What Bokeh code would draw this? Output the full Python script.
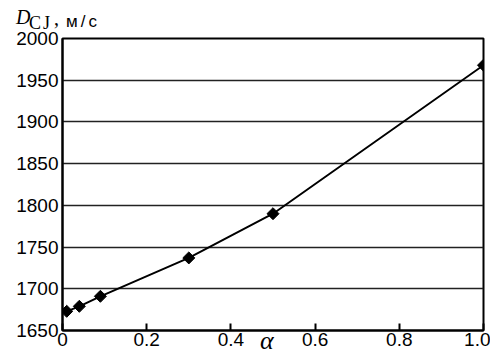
import math
from bokeh.plotting import figure
from bokeh.models import FixedTicker, Range1d, Div
from bokeh.layouts import column
from bokeh.embed import file_html
from bokeh.resources import INLINE

# data
alpha = [0.01, 0.04, 0.09, 0.30, 0.50, 1.00]
d_cj = [1673, 1679, 1691, 1737, 1790, 1968]
x_ticks = [0, 0.2, 0.4, 0.6, 0.8, 1.0]
x_tick_labels = ["0", "0.2", "0.4", "0.6", "0.8", "1.0"]
y_ticks = [1650, 1700, 1750, 1800, 1850, 1900, 1950, 2000]

W, H = 490, 356

p = figure(width=W, height=H, output_backend="svg", toolbar_location=None,
           x_range=Range1d(0, 1.0), y_range=Range1d(1650, 2000),
           min_border_left=62, min_border_right=7, min_border_top=38, min_border_bottom=26)
p.margin = 0
p.background_fill_color = "white"
p.border_fill_color = "white"
p.outline_line_color = "black"
p.outline_line_width = 2

# grid
p.xgrid.grid_line_color = None
p.ygrid.ticker = FixedTicker(ticks=y_ticks)
p.ygrid.grid_line_color = "#222222"
p.ygrid.grid_line_width = 1.3

# x axis
xa = p.xaxis[0]
xa.ticker = FixedTicker(ticks=x_ticks)
xa.major_label_overrides = {t: l for t, l in zip(x_ticks, x_tick_labels)}
xa.major_tick_in = 7
xa.major_tick_out = 0
xa.major_tick_line_width = 2
xa.minor_tick_line_color = None
xa.axis_line_width = 2
xa.major_label_text_font = "Liberation Sans"
xa.major_label_text_font_size = "19px"
xa.major_label_text_color = "black"
xa.major_label_standoff = 2

# y axis
ya = p.yaxis[0]
ya.ticker = FixedTicker(ticks=y_ticks)
ya.major_tick_in = 0
ya.major_tick_out = 0
ya.minor_tick_line_color = None
ya.axis_line_width = 2
ya.major_label_text_font = "Liberation Sans"
ya.major_label_text_font_size = "19px"
ya.major_label_text_color = "black"
ya.major_label_standoff = 4

# data line and markers
p.line(alpha, d_cj, line_color="black", line_width=2)
p.scatter(alpha, d_cj, marker="square", size=8.5, angle=math.pi / 4,
          fill_color="black", line_color="black")

# axis titles as an overlay text layer (same size as the figure)
serif = "font-family:'Liberation Serif';"
sans = "font-family:'Liberation Sans';"
overlay_html = (
    f'<div style="position:relative;width:{W}px;height:{H}px;color:black;white-space:nowrap;pointer-events:none;">'
    f'<span style="position:absolute;left:16px;top:6.5px;line-height:20px;font-size:20px;{serif}font-style:italic;">D</span>'
    f'<span style="position:absolute;left:29px;top:13.9px;line-height:18px;font-size:18px;{serif}letter-spacing:2px;">CJ</span>'
    f'<span style="position:absolute;left:54px;top:8.3px;line-height:20px;font-size:20px;{serif}">,</span>'
    f'<span style="position:absolute;left:66px;top:13.1px;line-height:17px;font-size:17px;{sans}letter-spacing:3px;">м/с</span>'
    f'<span style="position:absolute;left:260px;top:328px;line-height:26px;font-size:26px;{serif}font-style:italic;">α</span>'
    '</div>'
)
overlay = Div(text=overlay_html, width=W, height=H, margin=(-H, 0, 0, 0))

layout = column(p, overlay, spacing=0)
open("out.html", "w").write(file_html(layout, INLINE))
